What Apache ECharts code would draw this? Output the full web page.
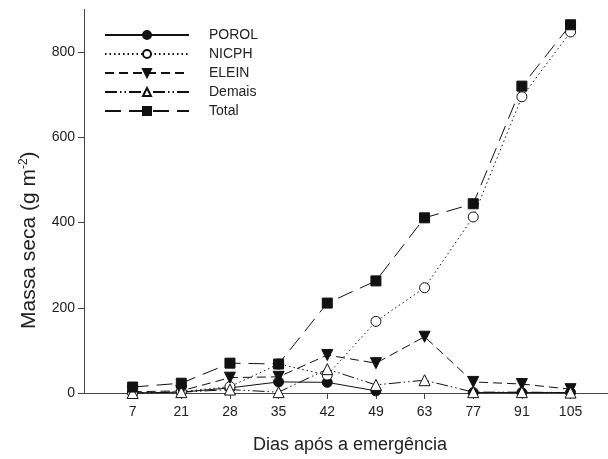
<!DOCTYPE html>
<html>
<head>
<meta charset="utf-8">
<script src="https://cdn.jsdelivr.net/npm/echarts@6/dist/echarts.min.js"></script>
<style>
  html, body { margin: 0; padding: 0; background: #fff; }
  #chart { width: 608px; height: 459px; }
</style>
</head>
<body>
<div id="chart"></div>
<script>
// Sampling days (days after emergence), drawn evenly spaced
const days = ['7', '21', '28', '35', '42', '49', '63', '77', '91', '105'];

// Dry mass per species group (g m-2)
const porol  = [0, 2, 12, 26, 25, 5, null, 1, 1, 1];
const nicph  = [0, 3, 15, 68, 42, 168, 247, 413, 695, 847];
const elein  = [3, 5, 36, 38, 89, 70, 132, 26, 21, 9];
const demais = [0, 2, 8, 2, 56, 19, 30, 2, 2, 1];
const total  = [14, 23, 70, 68, 211, 263, 411, 444, 720, 864];

const yTicks = [0, 200, 400, 600, 800];

const FONT = 'Liberation Sans, Arial, sans-serif';
const INK = '#111';

// Each category sits at position index+1 on the horizontal axis
const pos = days.map((d, i) => i + 1);
const toPoints = arr => arr.map((v, i) => [pos[i], v]);

function lineSeries(name, data, dash, symbol, filled, rotate) {
  return {
    name: name,
    type: 'line',
    data: toPoints(data),
    connectNulls: false,
    symbol: symbol,
    symbolSize: symbol === 'rect' ? 10 : (symbol === 'triangle' ? 11 : 10),
    symbolRotate: rotate || 0,
    showAllSymbol: true,
    lineStyle: { color: INK, width: 1, type: dash },
    itemStyle: { color: filled ? INK : '#fff', borderColor: INK, borderWidth: 1 },
    emphasis: { disabled: true },
    animation: false
  };
}

const chart = echarts.init(document.getElementById('chart'), null, { renderer: 'canvas' });

chart.setOption({
  backgroundColor: '#fff',
  textStyle: { fontFamily: FONT },
  grid: { left: 84, right: 0, top: 9.4, bottom: 66, containLabel: false },
  legend: {
    orient: 'vertical',
    left: 99,
    top: 23,
    itemWidth: 84,
    itemHeight: 10,
    itemGap: 5,
    textStyle: { fontFamily: FONT, fontSize: 14, color: '#222', padding: [0, 0, 0, 15] },
    data: ['POROL', 'NICPH', 'ELEIN', 'Demais', 'Total']
  },
  xAxis: {
    type: 'value',
    min: 0,
    max: 10.77,
    name: 'Dias após a emergência',
    nameLocation: 'middle',
    nameGap: 43,
    nameTextStyle: { fontFamily: FONT, fontSize: 18, color: '#222', padding: [0, 0, 0, 8] },
    splitLine: { show: false },
    axisLine: { lineStyle: { color: '#444', width: 1 } },
    axisTick: { show: true, inside: false, length: 6, customValues: pos, lineStyle: { color: '#444' } },
    axisLabel: {
      customValues: pos,
      margin: 12,
      fontFamily: FONT, fontSize: 14, color: '#222',
      formatter: v => days[Math.round(v) - 1] || ''
    }
  },
  yAxis: {
    type: 'value',
    min: 0,
    max: 900,
    name: 'Massa seca (g m{sup|-2})',
    nameLocation: 'middle',
    nameRotate: 90,
    nameGap: 43,
    nameTextStyle: {
      fontFamily: FONT, fontSize: 21, color: '#222',
      padding: [0, 78, 0, 0],
      rich: { sup: { fontFamily: FONT, fontSize: 12, color: '#222', verticalAlign: 'top', padding: [0, 0, 11, 0] } }
    },
    splitLine: { show: false },
    axisLine: { show: true, lineStyle: { color: '#444', width: 1 } },
    axisTick: { show: true, inside: false, length: 6, customValues: yTicks, lineStyle: { color: '#444' } },
    axisLabel: { customValues: yTicks, margin: 9, fontFamily: FONT, fontSize: 14, color: '#222' }
  },
  series: [
    lineSeries('POROL', porol, 'solid', 'circle', true),
    lineSeries('NICPH', nicph, [1.5, 3], 'circle', false),
    lineSeries('ELEIN', elein, [9, 5], 'triangle', true, 180),
    lineSeries('Demais', demais, [12, 3, 1.5, 3, 1.5, 3], 'triangle', false),
    lineSeries('Total', total, [16, 8], 'rect', true)
  ]
});
</script>
</body>
</html>
